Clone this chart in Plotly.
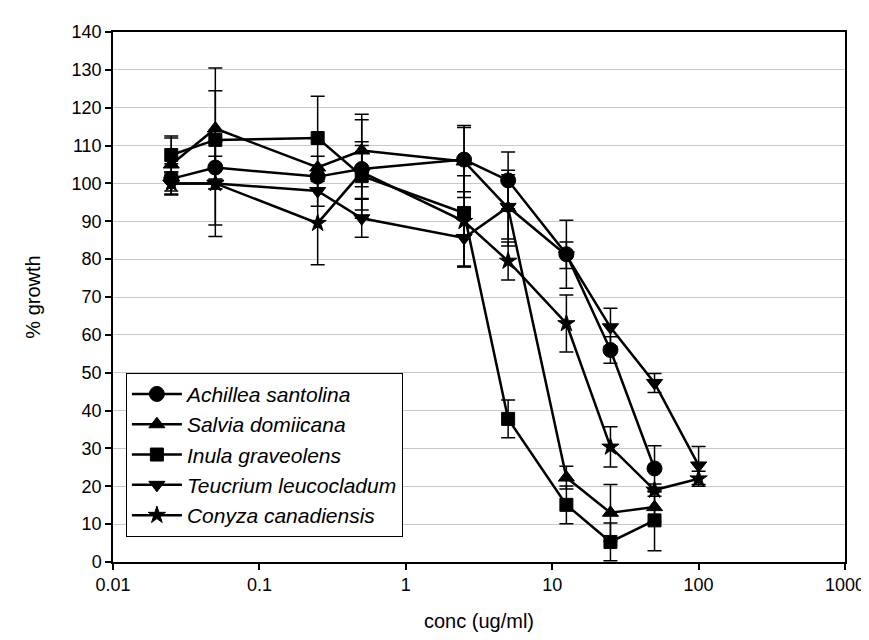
import plotly.graph_objects as go

conc = [0.025, 0.05, 0.25, 0.5, 2.5, 5, 12.5, 25, 50, 100]

names = ["Achillea santolina", "Salvia domiicana", "Inula graveolens",
         "Teucrium leucocladum", "Conyza canadiensis"]

# values (None = not measured)
achillea = [101.2, 104.2, 101.8, 103.8, 106.3, 100.8, 81.3, 56.0, 24.7, None]
achillea_err = [4, 3, 3, 13, 8.5, 7.5, 9, 3.5, 6, None]

salvia = [105.0, 114.5, 104.2, 108.7, 105.8, 93.5, 22.3, 13.0, 14.5, None]
salvia_err = [7, 16, 3, 9.6, 9.5, 10, 3, 7.5, 4, None]

inula = [107.5, 111.5, 112.0, 102.0, 92.2, 37.8, 15.1, 5.3, 11.0, None]
inula_err = [5, 13, 11, 9, 14, 5, 5, 5, 8, None]

teucrium = [100.0, 100.0, 98.0, 90.8, 85.6, 93.8, 81.0, 62.0, 47.3, 25.5]
teucrium_err = [3, 11, 4, 5, 7.7, 8.5, 3.5, 5, 2.5, 5]

conyza = [100.0, 100.0, 89.5, 103.0, 90.0, 79.5, 63.0, 30.4, 19.0, 22.0]
conyza_err = [3, 14, 11, 7, 12, 5, 7.5, 5.3, 1.6, 2]

symbols = ["circle", "triangle-up", "square", "triangle-down", "star"]
sizes = [15, 14, 13, 14, 13]
series = [achillea, salvia, inula, teucrium, conyza]
errs = [achillea_err, salvia_err, inula_err, teucrium_err, conyza_err]

fig = go.Figure()
for name, ys, es, sym, sz in zip(names, series, errs, symbols, sizes):
    xs = [c for c, v in zip(conc, ys) if v is not None]
    yv = [v for v in ys if v is not None]
    ev = [e for e, v in zip(es, ys) if v is not None]
    fig.add_trace(go.Scatter(
        x=xs, y=yv, name=name, mode="lines+markers",
        line=dict(color="black", width=2.5),
        marker=dict(symbol=sym, size=sz, color="black",
                    line=dict(color="black", width=1)),
        error_y=dict(type="data", array=ev, visible=True,
                     color="black", thickness=1.5, width=7),
    ))

tickvals = [0.01, 0.1, 1, 10, 100, 1000]
ticktext = ["0.01", "0.1", "1", "10", "100", "1000"]

fig.update_layout(
    width=869, height=640,
    margin=dict(l=105, r=26, t=24, b=86),
    paper_bgcolor="white", plot_bgcolor="white",
    font=dict(family="Liberation Sans, Arial, sans-serif", size=18, color="black"),
    showlegend=True,
    legend=dict(
        x=0.0176, y=0.357, xanchor="left", yanchor="top",
        bordercolor="black", borderwidth=1, bgcolor="white",
        font=dict(size=21, style="italic"),
        tracegroupgap=0, itemwidth=50,
    ),
    xaxis=dict(
        type="log", range=[-2, 3], tickvals=tickvals, ticktext=ticktext,
        showgrid=False, zeroline=False,
        showline=True, linecolor="black", linewidth=1.5, mirror=True,
        ticks="outside", ticklen=6, tickcolor="black", tickwidth=1.5,
        tickfont=dict(size=18),
        title=dict(text="conc (ug/ml)", font=dict(size=20), standoff=20),
    ),
    yaxis=dict(
        range=[0, 140], dtick=10,
        showgrid=True, gridcolor="#c8c8c8", gridwidth=1, zeroline=False,
        showline=True, linecolor="black", linewidth=1.5, mirror=True,
        ticks="outside", ticklen=6, tickcolor="black", tickwidth=1.5,
        tickfont=dict(size=18),
        title=dict(text="% growth", font=dict(size=20), standoff=26),
    ),
)

fig.write_html("out.html")
